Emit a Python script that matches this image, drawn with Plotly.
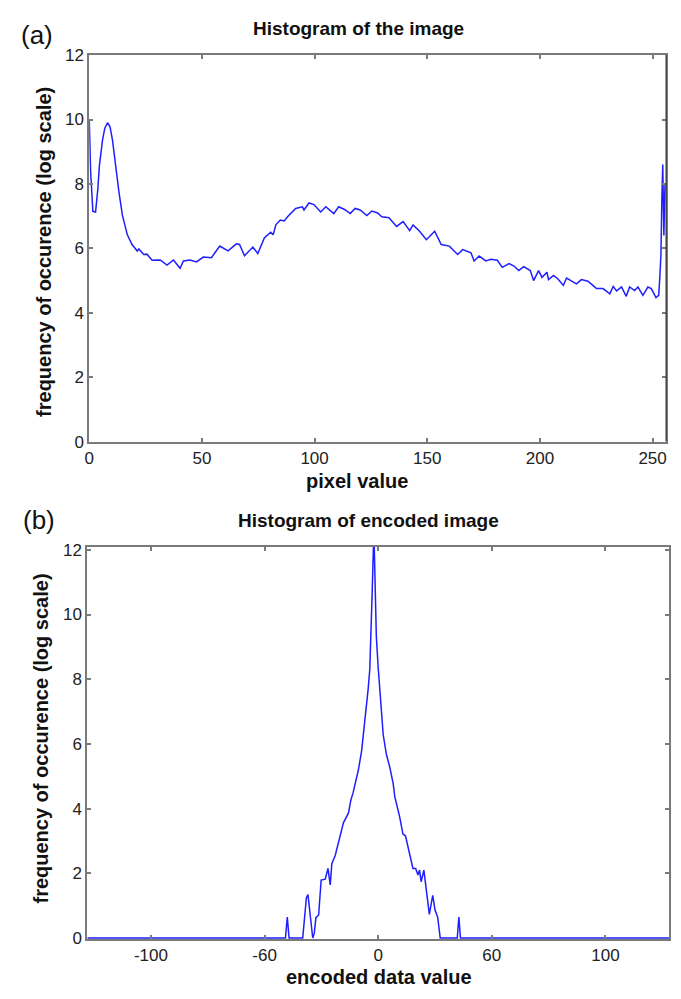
import plotly.graph_objects as go

# ---------------- data: (a) histogram of the image ----------------
pixel_value = [0, 0.6, 1.6, 2.8, 3.8, 4.5, 5.9, 6.9, 8.1, 9.2,
               10.3, 11.7, 13.2, 14.7, 16.9, 19.0, 21.3, 22.0, 24.2, 25.6,
               27.9, 31.5, 34.5, 37.4, 40.3, 41.8, 44.7, 47.6, 50.6, 54.2,
               57.9, 61.6, 65.3, 66.7, 68.9, 72.6, 74.8, 77.7, 80.5, 81.6,
               82.8, 84.8, 86.5, 88.0, 91.6, 94.6, 95.3, 97.5, 99.7, 102.7,
               105.0, 108.5, 110.7, 113.5, 115.8, 118.0, 120.2, 123.2, 125.4, 128.0,
               129.8, 133.0, 136.4, 139.3, 142.2, 143.7, 146.6, 149.6, 153.3, 156.2,
               159.8, 163.5, 165.7, 169.4, 170.8, 173.0, 176.0, 178.2, 181.1, 183.3,
               186.3, 188.5, 190.6, 192.8, 195.7, 197.2, 199.4, 200.9, 203.1, 203.8,
               206.0, 208.0, 210.4, 211.8, 214.0, 216.2, 218.4, 221.3, 223.5, 225.1,
               228.0, 231.0, 232.5, 234.0, 236.2, 238.3, 239.8, 242.0, 243.5, 245.7,
               247.9, 249.4, 251.5, 252.7, 253.2, 253.7, 254.1, 254.5, 255.0, 255.5]
log_freq_a = [10.0, 8.4, 7.15, 7.13, 7.84, 8.56, 9.37, 9.73, 9.9, 9.78,
              9.37, 8.56, 7.74, 7.03, 6.42, 6.12, 5.92, 5.98, 5.81, 5.82,
              5.63, 5.64, 5.48, 5.64, 5.38, 5.61, 5.64, 5.58, 5.73, 5.71,
              6.07, 5.92, 6.14, 6.12, 5.77, 6.04, 5.84, 6.32, 6.50, 6.42,
              6.73, 6.88, 6.85, 6.98, 7.24, 7.29, 7.19, 7.41, 7.36, 7.13,
              7.29, 7.08, 7.29, 7.20, 7.08, 7.24, 7.19, 7.02, 7.16, 7.10,
              6.98, 6.95, 6.68, 6.83, 6.55, 6.73, 6.53, 6.27, 6.53, 6.12,
              6.07, 5.81, 5.96, 5.86, 5.61, 5.76, 5.61, 5.66, 5.63, 5.41,
              5.53, 5.45, 5.31, 5.43, 5.31, 5.00, 5.31, 5.10, 5.26, 5.03,
              5.16, 5.05, 4.85, 5.08, 4.98, 4.90, 5.03, 4.98, 4.85, 4.75,
              4.75, 4.59, 4.82, 4.68, 4.80, 4.51, 4.80, 4.69, 4.80, 4.54,
              4.80, 4.75, 4.47, 4.54, 5.10, 5.80, 7.50, 8.60, 6.40, 8.00]

x_ticks_a = [0, 50, 100, 150, 200, 250]
y_ticks = [0, 2, 4, 6, 8, 10, 12]

# ---------------- data: (b) histogram of encoded image ----------------
encoded_value = [-128, -40.8, -40.0, -39.2, -33.2, -32.8, -31.6, -30.9, -30.1, -29.4,
                 -28.8, -28.1, -27.4, -26.2, -25.1, -23.3, -22.1, -21.1, -20.4, -18.9,
                 -16.8, -15.3, -13.1, -12.0, -11.0, -10.2, -8.7, -7.3, -6.1, -5.1,
                 -4.4, -3.7, -3.2, -2.6, -1.9, -1.2, -0.8, 0.0, 0.7, 1.4,
                 2.2, 3.6, 5.1, 6.6, 7.3, 9.4, 10.9, 12.0, 13.8, 15.3,
                 16.5, 17.5, 18.2, 18.9, 20.1, 21.1, 22.5, 24.0, 25.0, 26.2,
                 27.3, 34.8, 35.5, 36.2, 128]
log_freq_b = [0, 0, 0.65, 0, 0, 0.38, 1.24, 1.34, 0.83, 0.5,
              0, 0.15, 0.63, 0.71, 1.79, 1.82, 2.15, 1.64, 2.3, 2.55,
              3.16, 3.56, 3.86, 4.27, 4.5, 4.72, 5.2, 5.78, 6.5, 7.1,
              7.7, 8.3, 9.22, 10.78, 12.6, 10.78, 9.3, 8.36, 7.7, 6.9,
              6.29, 5.68, 5.28, 4.77, 4.37, 3.76, 3.21, 3.16, 2.65, 2.15,
              2.15, 1.95, 2.1, 1.74, 2.1, 1.44, 0.73, 1.32, 0.87, 0.63,
              0, 0, 0.65, 0, 0]

x_tickvals_b = [-100, -50, 0, 50, 100]
x_ticktext_b = ["-100", "-60", "0", "60", "100"]

W, H = 681, 999
LINE = "rgb(30,30,255)"
AX = "#7a7a7a"
TICKFONT = dict(family="Liberation Sans, Arial, sans-serif", size=17, color="#222")
BOLD = "Liberation Sans, Arial, sans-serif"

fig = go.Figure()
fig.add_trace(go.Scatter(x=pixel_value, y=log_freq_a, mode="lines",
                         line=dict(color=LINE, width=1.5), xaxis="x", yaxis="y",
                         showlegend=False))
fig.add_trace(go.Scatter(x=encoded_value, y=log_freq_b, mode="lines",
                         line=dict(color=LINE, width=1.5), xaxis="x2", yaxis="y2",
                         showlegend=False))

def px(v):
    return v / W

def py(v):
    return 1 - v / H

axis_common = dict(showline=True, linecolor=AX, linewidth=2, mirror="ticks",
                   ticks="inside", ticklen=4, tickwidth=1.5, tickcolor=AX,
                   showgrid=False, zeroline=False, tickfont=TICKFONT)

fig.update_layout(
    width=W, height=H, autosize=False,
    margin=dict(l=0, r=0, t=0, b=0),
    paper_bgcolor="white", plot_bgcolor="white",
    xaxis=dict(domain=[px(85), px(667)], anchor="y", range=[0, 256],
               tickvals=x_ticks_a, **axis_common),
    yaxis=dict(domain=[py(441), py(47)], anchor="x", range=[0, 12],
               tickvals=y_ticks, **axis_common),
    xaxis2=dict(domain=[px(83), px(670)], anchor="y2", range=[-128, 128],
                tickvals=x_tickvals_b, ticktext=x_ticktext_b, **axis_common),
    yaxis2=dict(domain=[py(948), py(548)], anchor="x2", range=[-0.03, 12.1],
                tickvals=y_ticks, **axis_common),
)

# darker right border of panel (a)
fig.add_shape(type="line", xref="x domain", yref="y domain", x0=1, x1=1, y0=0, y1=1,
              line=dict(color="#333", width=1.2))

def ann(text, x, y, size, bold=True, angle=0):
    fig.add_annotation(text=f"<b>{text}</b>" if bold else text,
                       x=px(x), y=py(y), xref="paper", yref="paper",
                       showarrow=False, textangle=angle,
                       xanchor="center", yanchor="middle",
                       font=dict(family=BOLD, size=size, color="#111"))

ann("(a)", 32, 27, 26, bold=False)
ann("(b)", 34, 521, 26, bold=False)
ann("Histogram of the image", 357, 20, 19)
ann("Histogram of encoded image", 367, 521, 19)
ann("pixel value", 355, 481, 20)
ann("encoded data value", 377, 987, 20)
ann("frequency of occurence (log scale)", 40, 248, 20, angle=-90)
ann("frequency of occurence (log scale)", 36, 744, 20, angle=-90)

fig.write_html("out.html")
